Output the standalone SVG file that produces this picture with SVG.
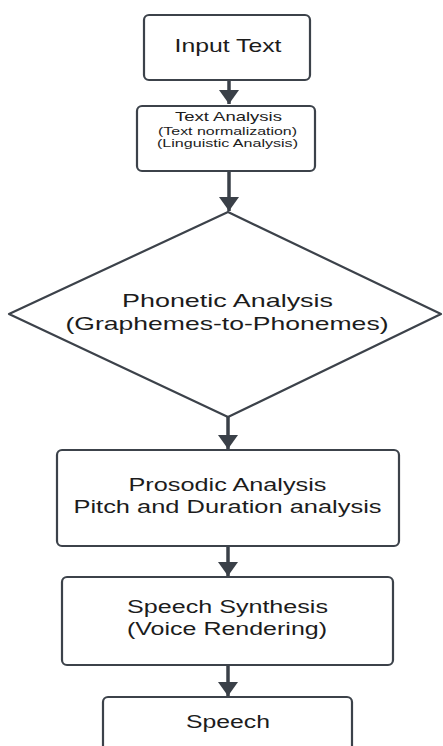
<svg xmlns="http://www.w3.org/2000/svg" width="443" height="746" viewBox="0 0 443 746">
<style>
.box{fill:#ffffff;stroke:#3c424a;stroke-width:2.2}
.t{font-family:"Liberation Sans",Arial,sans-serif;fill:#1c1c1c;text-anchor:middle}
.c{stroke:#3a4048;stroke-width:3.5;fill:none}
</style>
<defs>
<marker id="ah" markerUnits="userSpaceOnUse" viewBox="0 -10 14 20" markerWidth="14" markerHeight="20" refX="14" refY="0" orient="auto">
<path d="M0,-10 L14,0 L0,10 z" fill="#3a4048"/>
</marker>
</defs>
<rect width="443" height="746" fill="#ffffff"/>
<g id="connectors">
<line class="c" x1="229" y1="80" x2="229" y2="104" marker-end="url(#ah)"/>
<line class="c" x1="229" y1="171" x2="229" y2="211" marker-end="url(#ah)"/>
<line class="c" x1="228" y1="417" x2="228" y2="449" marker-end="url(#ah)"/>
<line class="c" x1="228" y1="546" x2="228" y2="576" marker-end="url(#ah)"/>
<line class="c" x1="228" y1="665" x2="228" y2="696" marker-end="url(#ah)"/>
</g>
<g id="input-text">
<rect class="box" x="144" y="15" width="166" height="65" rx="5"/>
<text class="t" x="228" y="52" font-size="18.5" textLength="107" lengthAdjust="spacingAndGlyphs">Input Text</text>
</g>
<g id="text-analysis">
<rect class="box" x="137" y="106" width="178" height="65" rx="5"/>
<text class="t" x="228.5" y="120.5" font-size="13" textLength="107" lengthAdjust="spacingAndGlyphs">Text Analysis</text>
<text class="t" x="227.5" y="134.5" font-size="11" textLength="139" lengthAdjust="spacingAndGlyphs">(Text normalization)</text>
<text class="t" x="227.5" y="147" font-size="11" textLength="141" lengthAdjust="spacingAndGlyphs">(Linguistic Analysis)</text>
</g>
<g id="phonetic-analysis">
<polygon class="box" points="228,212 441,314 228,417 9,314" stroke-linejoin="round"/>
<text class="t" x="227.5" y="307" font-size="19" textLength="211" lengthAdjust="spacingAndGlyphs">Phonetic Analysis</text>
<text class="t" x="227" y="330" font-size="19" textLength="323" lengthAdjust="spacingAndGlyphs">(Graphemes-to-Phonemes)</text>
</g>
<g id="prosodic-analysis">
<rect class="box" x="57" y="450" width="342" height="96" rx="5"/>
<text class="t" x="227.5" y="491" font-size="17.5" textLength="198" lengthAdjust="spacingAndGlyphs">Prosodic Analysis</text>
<text class="t" x="227.5" y="513" font-size="17.5" textLength="308" lengthAdjust="spacingAndGlyphs">Pitch and Duration analysis</text>
</g>
<g id="speech-synthesis">
<rect class="box" x="62" y="577" width="331" height="88" rx="5"/>
<text class="t" x="227.5" y="613" font-size="17.5" textLength="201" lengthAdjust="spacingAndGlyphs">Speech Synthesis</text>
<text class="t" x="227" y="635" font-size="17.5" textLength="200" lengthAdjust="spacingAndGlyphs">(Voice Rendering)</text>
</g>
<g id="speech">
<rect class="box" x="103" y="697" width="249" height="62" rx="5"/>
<text class="t" x="228" y="728" font-size="17.5" textLength="84" lengthAdjust="spacingAndGlyphs">Speech</text>
</g>
</svg>
